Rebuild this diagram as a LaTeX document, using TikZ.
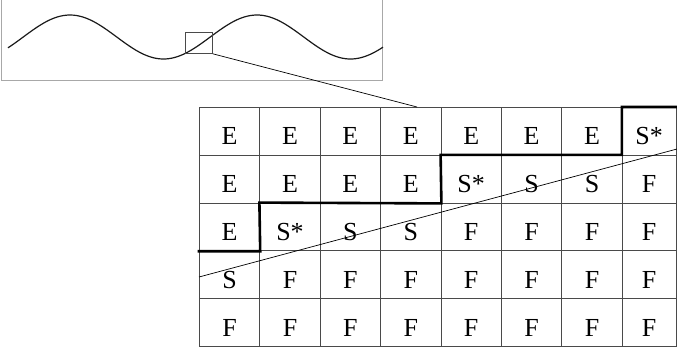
\documentclass[tikz,border=0pt]{standalone}
\usepackage{fontspec}
\setmainfont{Liberation Serif}
\usetikzlibrary{positioning}
\definecolor{gridGray}{HTML}{4A4A4A}
\definecolor{frameGray}{HTML}{A8A8A8}
\definecolor{waveInk}{HTML}{1A1A1A}
\tikzset{
  grid cell/.style={draw=gridGray, line width=0.8pt, anchor=north west,
    font=\fontsize{26}{28}\selectfont,
    minimum height=47.8pt, inner sep=0pt, text height=27pt, text depth=0pt},
  stair line/.style={draw=black, line width=2.6pt, line cap=rect},
  cut line/.style={draw=black, line width=0.7pt},
  wave line/.style={draw=waveInk, line width=1.2pt},
  wave frame/.style={draw=frameGray, line width=0.8pt},
  zoom box/.style={draw=gridGray, line width=0.8pt, inner sep=0pt,
    minimum width=27pt, minimum height=21pt, anchor=north west}
}
\begin{document}
\begin{tikzpicture}[x=1pt,y=-1pt]
  \useasboundingbox (0,0) rectangle (677,349);
  % overview of the wave
  \draw[wave frame] (1.7,-3) rectangle (382.7,80);
  \draw[wave line] plot[domain=8:383, samples=150, smooth]
    (\x, {37-22*cos(1.92513*(\x-70))});
  \node[zoom box] (zoom-box) at (185,32) {};
  % cell grid
  \foreach \row [count=\r] in {{E,E,E,E,E,E,E,S*},{E,E,E,E,S*,S,S,F},
      {E,S*,S,S,F,F,F,F},{S,F,F,F,F,F,F,F},{F,F,F,F,F,F,F,F}}{
    \foreach \val [count=\c] in \row {
      \pgfmathsetmacro{\xx}{199+(\c-1)*60.4}
      \pgfmathsetmacro{\yy}{107+(\r-1)*47.8}
      \pgfmathsetmacro{\ww}{\c==8 ? 54 : 60.4}
      \node[grid cell, minimum width=\ww pt] (c-\r-\c) at (\xx,\yy) {\val};
    }
  }
  % zoom connector
  \coordinate (zoom-end) at (417,107);
  \draw[cut line] (zoom-box.south east) -- (zoom-end);
  % magnified segment of the wave
  \coordinate (seg-a) at (199,277);
  \coordinate (seg-b) at (677,149);
  \draw[cut line] (seg-a) -- (seg-b);
  % boundary between E and F
  \draw[stair line] (c-3-1.south west) -- (c-3-1.south east)
    -- (c-3-2.north west) -- (c-2-4.south east) -- (c-2-5.north west)
    -- (c-2-8.north west) -- (c-1-8.north west) -- (c-1-8.north east);
\end{tikzpicture}
\end{document}
